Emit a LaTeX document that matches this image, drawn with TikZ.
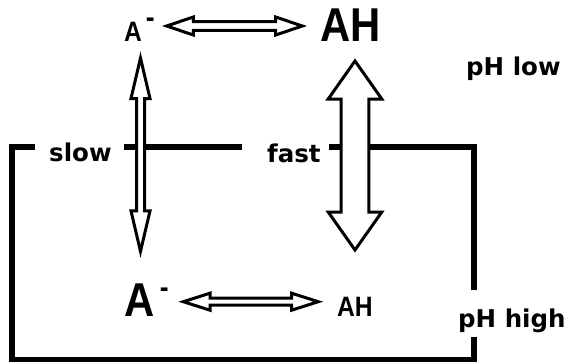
\documentclass[tikz,border=0pt]{standalone}
\usepackage{fontspec}
\setmainfont{DejaVu Sans}
\newfontfamily\chemfont[FakeStretch=0.88]{Liberation Sans}
\usepackage{graphicx}

% raised charge sign after a species
\newcommand\charge[2]{\kern#1pt\raisebox{#2pt}{\fontsize{30}{30}\selectfont -}}

\tikzset{
  frame/.style={line width=5.8pt, line cap=butt, line join=miter},
  hollow/.style={draw=black, fill=white, line width=3pt, line join=miter, miter limit=12},
  word/.style={font=\fontsize{24.5}{28}\selectfont\bfseries, inner sep=0pt, anchor=base west},
  chemsmall/.style={font=\chemfont\bfseries\fontsize{28}{32}\selectfont, inner sep=0pt, anchor=base west},
  chembig/.style={font=\chemfont\bfseries\fontsize{47.5}{52}\selectfont, inner sep=0pt, anchor=base west},
  % hollow double-headed arrow centred on the origin along x:
  % #1 half length, #2 half shaft width, #3 half head width, #4 head length
  pics/dblarrow/.style n args={4}{code={
    \draw[hollow] (-#1,0) -- (-#1+#4,-#3) -- (-#1+#4,-#2) -- (#1-#4,-#2)
      -- (#1-#4,-#3) -- (#1,0) -- (#1-#4,#3) -- (#1-#4,#2)
      -- (-#1+#4,#2) -- (-#1+#4,#3) -- cycle;
  }}
}

\begin{document}
\begin{tikzpicture}[x=1pt,y=-1pt]
\useasboundingbox[fill=white] (0,0) rectangle (566,364);

% frame separating the low and high pH regions
\draw[frame] (35,147) -- (12,147) -- (12,359.5) -- (474,359.5) -- (474,337);
\draw[frame] (474,290) -- (474,147) -- (329,147);
\draw[frame] (124,147) -- (242,147);

% equilibria and exchange arrows
\pic (topeq) at (234.5,26) {dblarrow={67.8}{4.3}{9}{26.6}};
\pic (boteq) at (250.8,301.7) {dblarrow={67.5}{3.5}{8.5}{26.7}};
\pic[rotate=90] (slowex) at (140.5,154.7) {dblarrow={96.7}{4}{9.5}{40.5}};
\pic[rotate=90] (fastex) at (355,155.5) {dblarrow={94.5}{13.8}{26.8}{38}};

% species
\node[chemsmall] (amtop) at (124,41.7) {A\charge{4}{14.7}};
\node[chembig] (ahtop) at (320,41.7) {AH};
\node[chembig] (ambot) at (124,316.7) {A\charge{5.5}{19.7}};
\node[chemsmall] (ahbot) at (337,316.7) {AH};

% labels
\node[word] (slow) at (49,161.5) {slow};
\node[word] (fast) at (267,162) {fast};
\node[word] (phlow) at (466,75) {pH low};
\node[word] (phhigh) at (458,327) {pH high};
\end{tikzpicture}
\end{document}
